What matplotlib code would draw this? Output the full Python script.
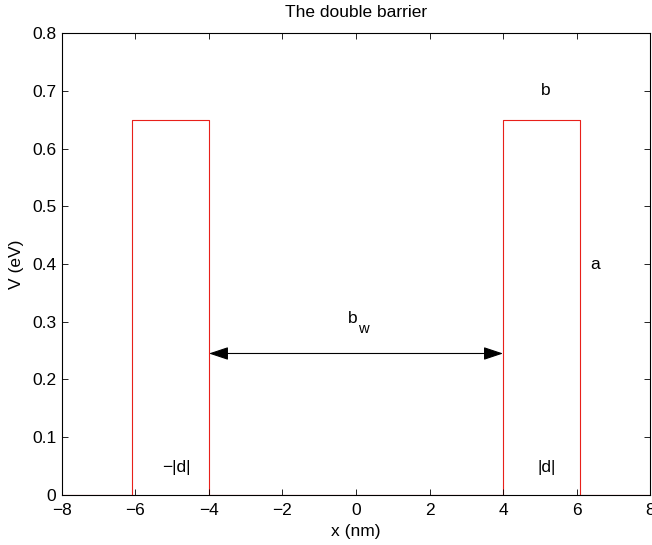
import matplotlib
matplotlib.use("Agg")
import matplotlib.pyplot as plt

plt.rcParams['font.family'] = ['Liberation Sans', 'DejaVu Sans']

# Potential profile data
x_pts = [-8, -6.1, -6.1, -4.0, -4.0, 4.0, 4.0, 6.1, 6.1, 8]
v_pts = [0, 0, 0.65, 0.65, 0, 0, 0.65, 0.65, 0, 0]

arrow_x = [-4.0, 4.0]
arrow_y = 0.245

labels = [
    ("b", 5.15, 0.70),
    ("a", 6.5, 0.40),
    ("\u2212|d|", -4.88, 0.047),
    ("|d|", 5.2, 0.047),
]

FS = 12.5

fig = plt.figure(figsize=(6.52, 5.45), dpi=100)
ax = fig.add_axes([0.095, 0.092, 0.902, 0.847])

ax.plot(x_pts, v_pts, color='#e8201a', linewidth=0.8, zorder=1)

ax.annotate("", xy=(arrow_x[1], arrow_y), xytext=(arrow_x[0], arrow_y),
            arrowprops=dict(arrowstyle='<|-|>,head_length=1.2,head_width=0.4',
                            color='black', lw=0.8, shrinkA=0, shrinkB=0))

for txt, xx, yy in labels:
    ax.text(xx, yy, txt, fontsize=FS, ha='center', va='center')
ax.text(-0.1, 0.306, "b", fontsize=FS, ha='center', va='center')
ax.text(0.2, 0.287, "w", fontsize=FS * 0.85, ha='center', va='center')

ax.set_xlim(-8, 8)
ax.set_ylim(0, 0.8)
ax.set_xticks(range(-8, 9, 2))
ax.set_xticklabels([str(t).replace('-', '\u2212') for t in range(-8, 9, 2)])
ax.set_yticks([i / 10 for i in range(0, 9)])
ax.set_yticklabels(['0'] + [f"{i/10:.1f}" for i in range(1, 9)])
ax.tick_params(direction='in', top=True, right=True, labelsize=FS, length=4, width=0.6)
ax.tick_params(axis='x', pad=6)
ax.tick_params(axis='y', pad=4)
for s in ax.spines.values():
    s.set_linewidth(0.8)
    s.set_zorder(3)
ax.set_xlabel("x (nm)", fontsize=FS, labelpad=4)
ax.set_ylabel("V (eV)", fontsize=FS, labelpad=6)
ax.set_title("The double barrier", fontsize=FS, pad=12)

fig.savefig("out.png", dpi=100)
